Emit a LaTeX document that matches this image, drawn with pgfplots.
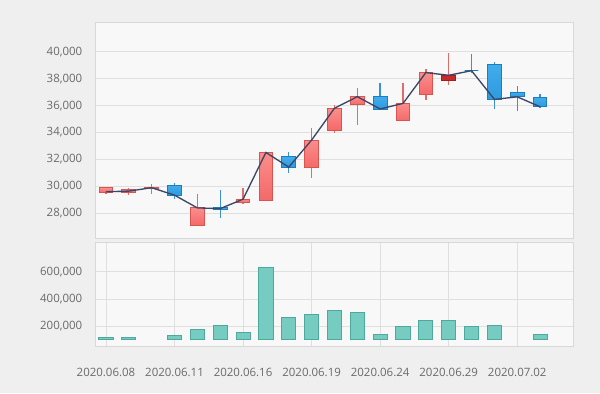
\documentclass[border=0pt]{standalone}
\usepackage{fontspec}
\setmainfont{Open Sans}
\usepackage{pgfplots}
\pgfplotsset{compat=1.18}
\usepackage{pgfplotstable}
\usepgfplotslibrary{statistics}

\definecolor{bgc}{HTML}{EFEFEF}
\definecolor{panel}{HTML}{F8F8F8}
\definecolor{frame}{HTML}{D8D8D8}
\definecolor{gridc}{HTML}{DFDFDF}
\definecolor{labc}{HTML}{6A6A6A}
\definecolor{upfill}{HTML}{F4696A}
\definecolor{uptop}{HTML}{FB8E8A}
\definecolor{upline}{HTML}{D9534F}
\definecolor{dnfill}{HTML}{2B9BE0}
\definecolor{dntop}{HTML}{43ACEB}
\definecolor{dnline}{HTML}{1A7FC2}
\definecolor{dkfill}{HTML}{C62A2A}
\definecolor{dkline}{HTML}{A51C1C}
\definecolor{navy}{HTML}{3C4767}
\definecolor{volfill}{HTML}{76CCC0}
\definecolor{volline}{HTML}{4EA89B}

% candles: low, body low, body high, high
\pgfplotstableread{
idx lo blo bhi hi
0 29450 29550 29900 29970
1 29350 29520 29780 29900
2 29400 29820 29900 30150
3 29030 29350 30100 30270
4 27130 27130 28400 29400
5 27620 28300 28420 29730
6 28690 28820 29050 29900
7 28990 28990 32520 32520
8 30970 31430 32200 32570
9 30600 31430 33440 34310
10 33940 34180 35800 36050
11 34560 36110 36660 37280
12 35650 35730 36660 37700
13 34880 34880 36160 37650
14 36410 36850 38450 38690
15 37530 37900 38230 39880
16 38400 38590 38590 39830
17 35750 36460 39070 39260
18 35610 36650 36990 37450
19 35840 35910 36590 36840
}\candles

% volume (bars drawn from 100,000)
\pgfplotstableread{
idx base v
0 100000 116500
1 100000 116500
2 100000 100000
3 100000 131000
4 100000 178000
5 100000 209500
6 100000 158000
7 100000 632000
8 100000 263000
9 100000 283000
10 100000 317000
11 100000 299500
12 100000 141000
13 100000 197000
14 100000 246000
15 100000 246000
16 100000 196000
17 100000 209500
18 100000 100000
19 100000 141000
}\volume

\pgfplotsset{
  panelstyle/.style={
    scale only axis,
    anchor=south west,
    width=358.5pt,
    xmin=-0.48, xmax=20.44,
    axis background/.style={fill=panel},
    axis line style={draw=frame},
    major tick length=0pt,
    tick style={draw=none},
    grid style={draw=gridc, line width=0.6pt},
    tick label style={font=\fontsize{8.6}{10}\selectfont, text=labc},
    /pgf/number format/assume math mode=true,
    /pgf/number format/fixed,
    /pgf/number format/1000 sep={,},
    scaled y ticks=false,
    yticklabel style={xshift=-6pt},
    clip=true,
  },
  candle/.style={
    boxplot/draw direction=y,
    boxplot/box extend=0.6,
    boxplot/whisker extend=0,
    boxplot/every median/.style={draw=none},
    line width=0.7pt,
  },
  upc/.style={candle, draw=upline,
    boxplot/every box/.style={top color=uptop, bottom color=upfill, draw=upline},
    boxplot/every whisker/.style={draw=upline!85, line width=1pt}},
  dnc/.style={candle, draw=dnline,
    boxplot/every box/.style={top color=dntop, bottom color=dnfill, draw=dnline},
    boxplot/every whisker/.style={draw=dnline!85, line width=1pt}},
  dkc/.style={candle, draw=dkline,
    boxplot/every box/.style={fill=dkfill, draw=dkline},
    boxplot/every whisker/.style={draw=upline!85, line width=1pt}},
  volc/.style={candle, boxplot/box extend=0.62, draw=volline,
    boxplot/every box/.style={fill=volfill, draw=volline},
    boxplot/every whisker/.style={draw=none}},
}

% one candle from row #1 of \candles, drawn with style #2
\newcommand{\candleplot}[2]{%
  \pgfplotstablegetelem{#1}{lo}\of\candles \let\cLo\pgfplotsretval
  \pgfplotstablegetelem{#1}{blo}\of\candles \let\cBlo\pgfplotsretval
  \pgfplotstablegetelem{#1}{bhi}\of\candles \let\cBhi\pgfplotsretval
  \pgfplotstablegetelem{#1}{hi}\of\candles \let\cHi\pgfplotsretval
  \edef\doit{\noexpand\addplot[#2, boxplot prepared={draw position=#1,
    lower whisker=\cLo, lower quartile=\cBlo, median=\cBlo,
    upper quartile=\cBhi, upper whisker=\cHi}] coordinates {};}%
  \doit
}
% one volume bar from row #1 of \volume
\newcommand{\volplot}[1]{%
  \pgfplotstablegetelem{#1}{base}\of\volume \let\vB\pgfplotsretval
  \pgfplotstablegetelem{#1}{v}\of\volume \let\vV\pgfplotsretval
  \edef\doit{\noexpand\addplot[volc, boxplot prepared={draw position=#1,
    lower whisker=\vB, lower quartile=\vB, median=\vB,
    upper quartile=\vV, upper whisker=\vV}] coordinates {};}%
  \doit
}

\begin{document}
\begin{tikzpicture}
\fill[bgc] (0,0) rectangle (450pt,294.75pt);
\useasboundingbox (0,0) rectangle (450pt,294.75pt);

% ---- price panel ----
\begin{axis}[panelstyle,
  at={(71.25pt,115.875pt)},
  height=161.85pt,
  ymin=26130, ymax=42155,
  ytick={28000,30000,32000,34000,36000,38000,40000},
  xtick=\empty,
  ymajorgrids=true,
]
\pgfplotsinvokeforeach{0,1,2,4,6,7,9,10,11,13,14}{\candleplot{#1}{upc}}
\pgfplotsinvokeforeach{3,5,8,12,16,17,18,19}{\candleplot{#1}{dnc}}
\candleplot{15}{dkc}
\addplot[navy, line width=1pt, mark=none] coordinates {
(0,29600) (1,29650) (2,29900) (3,29350) (4,28400) (5,28350) (6,29050)
(7,32520) (8,31430) (9,33440) (10,35800) (11,36660) (12,35750) (13,36160)
(14,38450) (15,38250) (16,38590) (17,36460) (18,36650) (19,35910)};
\end{axis}

% ---- volume panel ----
\begin{axis}[panelstyle,
  at={(71.25pt,35.25pt)},
  height=77.5pt,
  ymin=55700, ymax=812000,
  ytick={200000,400000,600000},
  xtick={0,3,6,9,12,15,18},
  xticklabels={2020.06.08,2020.06.11,2020.06.16,2020.06.19,2020.06.24,2020.06.29,2020.07.02},
  xticklabel style={yshift=-13.25pt},
  ymajorgrids=true, xmajorgrids=true,
]
\pgfplotsinvokeforeach{0,1,3,4,5,6,7,8,9,10,11,12,13,14,15,16,17,19}{\volplot{#1}}
\end{axis}
\end{tikzpicture}
\end{document}
